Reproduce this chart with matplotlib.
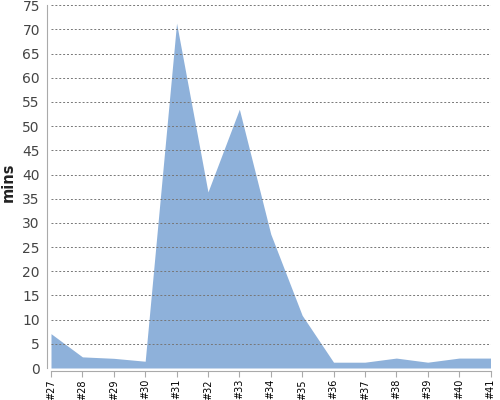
import matplotlib
matplotlib.use("Agg")
import matplotlib.pyplot as plt

# Data
builds = ["#27", "#28", "#29", "#30", "#31", "#32", "#33", "#34",
          "#35", "#36", "#37", "#38", "#39", "#40", "#41"]
mins = [7.1, 2.3, 2.0, 1.4, 71.3, 36.4, 53.5, 27.7,
        10.9, 1.2, 1.2, 2.05, 1.2, 2.05, 2.05]
y_ticks = list(range(0, 80, 5))

fig = plt.figure(figsize=(5, 4), dpi=100)
ax = fig.add_axes([0.102, 0.08, 0.879, 0.907])

# spine offsets first, they reset the tick settings
for side in ["top", "right"]:
    ax.spines[side].set_visible(False)
ax.spines["left"].set_color("#aaaaaa")
ax.spines["bottom"].set_color("#aaaaaa")
ax.spines["left"].set_position(("outward", 3))
ax.spines["bottom"].set_position(("outward", 2))

x = list(range(len(builds)))
ax.fill_between(x, mins, 0, color="#8eb1da", linewidth=0)

ax.set_xlim(0, len(builds) - 1)
ax.set_ylim(0, 75)
ax.set_yticks(y_ticks)
ax.set_xticks(x)
ax.set_xticklabels(builds, rotation=90, fontsize=7, color="black")
ax.tick_params(axis="y", labelsize=10, colors="#444444", length=0, pad=5)
ax.tick_params(axis="x", length=4, color="#aaaaaa", pad=2)

ax.grid(axis="y", linestyle=(0, (2, 2)), color="#777777", linewidth=0.7)
ax.set_axisbelow(False)

ax.set_ylabel("mins", fontsize=10.5, fontweight="bold", color="#222222",
              family=["DejaVu Sans Condensed", "DejaVu Sans"])
ax.yaxis.set_label_coords(-0.08, 0.511)

fig.savefig("out.png", dpi=100)
